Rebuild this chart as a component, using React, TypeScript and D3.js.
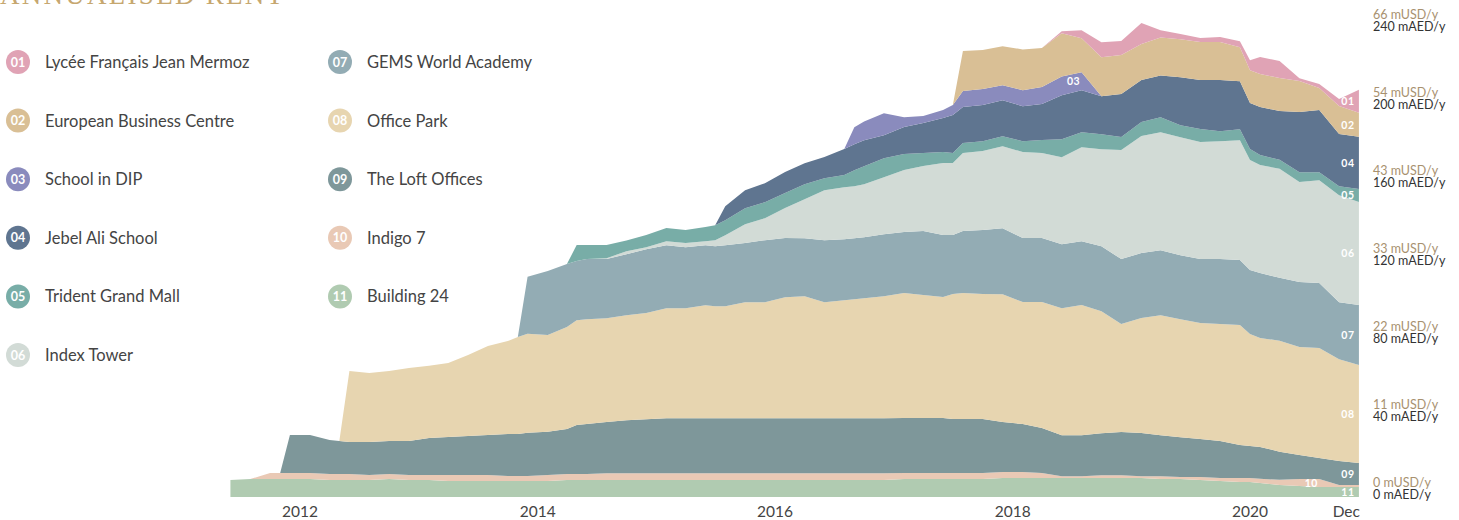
import React from "react";
import * as d3 from "d3";

// monthly sample points (mAED/y per building)
const dates = [
  "2011-06", "2011-08", "2011-10", "2011-11", "2011-12", "2012-02", "2012-04", "2012-05", "2012-06", "2012-08",
  "2012-10", "2012-12", "2013-02", "2013-04", "2013-06", "2013-08", "2013-10", "2013-11", "2013-12", "2014-02",
  "2014-04", "2014-05", "2014-06", "2014-08", "2014-10", "2014-12", "2015-02", "2015-04", "2015-06", "2015-07",
  "2015-08", "2015-10", "2015-12", "2016-02", "2016-04", "2016-06", "2016-08", "2016-09", "2016-10", "2016-12",
  "2017-02", "2017-04", "2017-06", "2017-07", "2017-08", "2017-10", "2017-12", "2018-02", "2018-04", "2018-06",
  "2018-08", "2018-10", "2018-12", "2019-02", "2019-04", "2019-06", "2019-08", "2019-10", "2019-12", "2020-01",
  "2020-02", "2020-04", "2020-06", "2020-08", "2020-10", "2020-12",
];

const building24 = [
  8.7, 9.2, 9.2, 9.2, 9.2, 9.2, 8.7, 8.7, 8.7, 8.7,
  9.2, 8.7, 8.7, 8.2, 8.2, 8.2, 8.2, 8.2, 8.2, 8.2,
  8.7, 8.7, 8.7, 8.7, 8.7, 8.7, 8.7, 8.7, 8.7, 8.7,
  8.7, 8.7, 8.7, 8.7, 8.7, 8.7, 8.7, 8.7, 8.7, 8.7,
  9.2, 9.2, 9.2, 9.2, 9.2, 9.2, 9.7, 9.7, 9.7, 9.7,
  9.7, 9.7, 9.7, 9.7, 9.2, 9.2, 8.7, 8.2, 7.7, 7.7,
  7.2, 6.2, 5.6, 5.1, 5.1, 5.1,
];
const indigo7 = [
  0, 0, 3.1, 3.1, 3.1, 3.1, 3.1, 3.1, 3.1, 2.6,
  2.6, 2.6, 2.6, 3.1, 3.1, 3.1, 2.6, 2.6, 2.6, 3.1,
  3.1, 3.1, 3.1, 3.5, 3.5, 3.5, 3.5, 3.5, 3.5, 3.5,
  3.5, 3.5, 3.5, 3.5, 3.5, 3.5, 3.5, 3.5, 3.5, 3.5,
  3.1, 3.1, 3.1, 3.1, 3.1, 3.1, 3.1, 3.1, 2.6, 1.0,
  1.0, 1.5, 1.5, 1.0, 1.5, 1.0, 1.5, 1.5, 2.1, 2.1,
  2.1, 2.6, 3.6, 4.1, 1.0, 1.0,
];
const loftOffices = [
  0, 0, 0, 0, 19.5, 19.5, 17.4, 16.9, 16.4, 16.9,
  16.9, 17.4, 19.0, 19.5, 20.0, 20.5, 21.5, 21.5, 22.1, 22.1,
  23.1, 25.1, 25.6, 26.2, 27.2, 27.7, 28.2, 28.2, 28.2, 28.2,
  28.2, 28.2, 28.2, 28.2, 28.2, 28.2, 28.2, 28.2, 28.2, 28.2,
  28.2, 28.2, 28.2, 27.7, 27.7, 27.7, 25.6, 24.6, 23.1, 21.0,
  21.0, 21.5, 22.1, 22.1, 21.0, 20.5, 19.5, 19.0, 16.9, 16.4,
  16.4, 14.4, 12.3, 10.8, 12.3, 11.3,
];
const officePark = [
  0, 0, 0, 0, 0, 0, 0, 0, 36.4, 35.4,
  35.9, 37.4, 37.0, 37.9, 41.5, 45.6, 47.7, 49.7, 50.8, 49.7,
  52.3, 53.8, 53.8, 53.3, 53.8, 54.4, 56.4, 56.4, 57.9, 57.4,
  57.4, 59.5, 59.5, 62.1, 62.6, 59.5, 60.5, 61.0, 61.5, 62.6,
  64.1, 63.1, 62.1, 64.1, 64.6, 64.1, 65.6, 62.6, 64.6, 65.1,
  66.7, 62.6, 55.4, 59.0, 61.5, 60.5, 59.5, 60.0, 61.5, 57.4,
  55.9, 56.9, 55.4, 56.4, 52.3, 50.3,
];
const gems = [
  0, 0, 0, 0, 0, 0, 0, 0, 0, 0,
  0, 0, 0, 0, 0, 0, 0, 0, 29.2, 32.8,
  32.3, 30.3, 30.8, 30.3, 31.3, 32.8, 32.3, 31.3, 30.8, 30.8,
  31.3, 30.3, 31.8, 30.3, 29.7, 31.8, 31.3, 31.3, 31.3, 31.8,
  31.3, 32.8, 31.8, 30.3, 31.8, 32.8, 33.8, 32.8, 32.8, 32.8,
  32.8, 33.3, 33.3, 33.3, 33.3, 32.8, 32.8, 33.3, 33.3, 32.8,
  33.3, 32.3, 33.3, 33.3, 29.2, 30.8,
];
const indexTower = [
  0, 0, 0, 0, 0, 0, 0, 0, 0, 0,
  0, 0, 0, 0, 0, 0, 0, 0, 0, 0,
  0, 0, 0, 0.5, 1.5, 1.0, 2.1, 2.1, 2.1, 3.1,
  5.1, 9.7, 11.3, 15.4, 20.0, 25.6, 26.7, 26.7, 27.2, 29.2,
  31.8, 33.3, 36.9, 36.9, 40.0, 40.5, 42.1, 44.1, 43.6, 44.6,
  48.2, 49.7, 55.9, 60.0, 60.5, 60.5, 60.0, 60.5, 61.5, 56.4,
  55.4, 55.9, 51.3, 52.8, 54.9, 52.8,
];
const tridentMall = [
  0, 0, 0, 0, 0, 0, 0, 0, 0, 0,
  0, 0, 0, 0, 0, 0, 0, 0, 0, 0,
  0, 8.2, 7.2, 6.7, 5.6, 6.2, 6.7, 6.7, 7.2, 7.7,
  7.7, 8.2, 8.2, 7.7, 7.7, 6.2, 6.2, 8.2, 9.2, 9.7,
  8.2, 6.7, 5.6, 5.1, 5.1, 5.1, 5.1, 5.6, 6.7, 9.2,
  7.7, 7.7, 6.7, 7.2, 7.7, 6.2, 6.7, 5.1, 5.6, 5.6,
  5.1, 4.6, 5.1, 4.1, 4.6, 6.7,
];
const jebelAli = [
  0, 0, 0, 0, 0, 0, 0, 0, 0, 0,
  0, 0, 0, 0, 0, 0, 0, 0, 0, 0,
  0, 0, 0, 0, 0, 0, 0, 0, 0, 0,
  7.2, 9.2, 9.7, 10.8, 10.8, 10.8, 13.3, 13.3, 13.3, 11.8,
  13.8, 15.4, 17.4, 19.5, 18.5, 18.5, 18.5, 17.9, 18.5, 22.6,
  21.5, 19.5, 22.1, 21.5, 21.5, 24.6, 25.1, 26.2, 24.6, 23.6,
  24.6, 25.1, 30.8, 31.8, 26.7, 26.7,
];
const schoolDip = [
  0, 0, 0, 0, 0, 0, 0, 0, 0, 0,
  0, 0, 0, 0, 0, 0, 0, 0, 0, 0,
  0, 0, 0, 0, 0, 0, 0, 0, 0, 0,
  0, 0, 0, 0, 0, 0, 0, 8.7, 9.7, 11.3,
  5.1, 3.6, 4.1, 5.1, 8.2, 8.2, 7.7, 8.2, 8.7, 9.7,
  9.2, 0, 0, 0, 0, 0, 0, 0, 0, 0,
  0, 0, 0, 0, 0, 0,
];
const europeanBC = [
  0, 0, 0, 0, 0, 0, 0, 0, 0, 0,
  0, 0, 0, 0, 0, 0, 0, 0, 0, 0,
  0, 0, 0, 0, 0, 0, 0, 0, 0, 0,
  0, 0, 0, 0, 0, 0, 0, 0, 0, 0,
  0, 0, 0, 0, 20.5, 20.0, 20.0, 20.9, 20.0, 22.1,
  17.4, 20.0, 20.0, 18.5, 19.5, 19.5, 19.5, 19.5, 17.4, 16.9,
  16.9, 16.9, 15.9, 11.3, 14.4, 12.3,
];
const lycee = [
  0, 0, 0, 0, 0, 0, 0, 0, 0, 0,
  0, 0, 0, 0, 0, 0, 0, 0, 0, 0,
  0, 0, 0, 0, 0, 0, 0, 0, 0, 0,
  0, 0, 0, 0, 0, 0, 0, 0, 0, 0,
  0, 0, 0, 0, 0, 0, 0, 0, 0, 1.0,
  4.1, 7.7, 7.2, 10.8, 3.6, 2.6, 2.1, 2.6, 3.1, 5.1,
  8.7, 8.7, 1.5, 2.1, 3.6, 11.8,
];

const names = [
  "Lycée Français Jean Mermoz", "European Business Centre", "School in DIP", "Jebel Ali School",
  "Trident Grand Mall", "Index Tower", "GEMS World Academy", "Office Park",
  "The Loft Offices", "Indigo 7", "Building 24",
];
const colors = [
  "#e0a3b5", "#d9bf95", "#8a8bbd", "#5f7590", "#78ada7", "#d2dbd6",
  "#93acb4", "#e7d5b0", "#7e979a", "#e9c9b5", "#b0cbb1",
];
const seriesValues = [
  lycee, europeanBC, schoolDip, jebelAli, tridentMall, indexTower,
  gems, officePark, loftOffices, indigo7, building24,
];
// where the in-chart number sits (index into dates)
const labelIdx = [65, 65, 50, 65, 65, 65, 65, 65, 65, 63, 65];

const yearTicks = ["2012", "2014", "2016", "2018", "2020"];
const aedTicks = [0, 40, 80, 120, 160, 200, 240];
const usdTicks = [0, 11, 22, 33, 43, 54, 66];

const W = 1459;
const H = 520;
const FONT = "Lato, 'Noto Sans', sans-serif";

export default function App() {
  const parse = d3.timeParse("%Y-%m");
  const dts = dates.map((s) => parse(s) as Date);

  const rows = dts.map((d, i) => {
    const r: any = { date: d };
    names.forEach((_, k) => (r["s" + k] = seriesValues[k][i]));
    return r;
  });
  // bottom of the stack is 11, top is 01
  const keys = names.map((_, k) => "s" + k).reverse();
  const stacked = d3.stack<any>().keys(keys)(rows);

  const x = d3.scaleTime()
    .domain([new Date(2012, 0, 1), new Date(2020, 0, 1)])
    .range([300, 1250]);
  const y = d3.scaleLinear().domain([0, 240]).range([497, 29]);

  const area = d3.area<any>()
    .x((d) => x(d.data.date))
    .y0((d) => y(d[0]))
    .y1((d) => y(d[1]));

  const last = dts.length - 1;

  return (
    <svg width={W} height={H} style={{ position: "absolute", left: 0, top: 0, fontFamily: FONT }}>
      <text x={0} y={3.5} fill="#c6a76f" fontSize={27} fontFamily="'Liberation Serif', 'DejaVu Serif', serif"
        textLength={283} lengthAdjust="spacing">ANNUALISED RENT</text>

      {stacked.map((s) => {
        const k = +s.key.slice(1);
        return <path key={s.key} d={area(s) || ""} fill={colors[k]} />;
      })}

      {stacked.map((s) => {
        const k = +s.key.slice(1);
        const i = labelIdx[k];
        const p = s[i];
        const lx = i === last ? x(dts[i]) - 11 : x(dts[i]) - 8;
        return (
          <text key={"l" + s.key} x={lx} y={y((p[0] + p[1]) / 2)} dy="0.35em" textAnchor="middle"
            fill="#fff" fontSize={10.5} fontWeight={700} letterSpacing={0.5}>
            {String(k + 1).padStart(2, "0")}
          </text>
        );
      })}

      {names.map((n, k) => {
        const col = k < 6 ? 0 : 1;
        const row = k < 6 ? k : k - 6;
        const cx = col === 0 ? 18 : 340;
        const cy = 62 + row * 58.6;
        return (
          <g key={"lg" + k}>
            <circle cx={cx} cy={cy} r={12} fill={colors[k]} />
            <text x={cx} y={cy} dy="0.36em" textAnchor="middle" fill="#fff" fontSize={12.5} fontWeight={700}>
              {String(k + 1).padStart(2, "0")}
            </text>
            <text x={cx + 27} y={cy} dy="0.36em" fill="#444" fontSize={16.5}>{n}</text>
          </g>
        );
      })}

      {yearTicks.map((t) => (
        <text key={t} x={x(new Date(+t, 0, 1))} y={517} textAnchor="middle" fill="#444" fontSize={15.5}>{t}</text>
      ))}
      <text x={x(dts[last]) + 1} y={517} textAnchor="end" fill="#444" fontSize={15.5}>Dec</text>

      {aedTicks.map((v, i) => (
        <g key={"r" + v}>
          <text x={1373} y={y(v) - 10.5} fill="#a8916f" fontSize={12.5}>{usdTicks[i]} mUSD/y</text>
          <text x={1373} y={y(v) + 1.5} fill="#333" fontSize={12.5}>{v} mAED/y</text>
        </g>
      ))}
    </svg>
  );
}
